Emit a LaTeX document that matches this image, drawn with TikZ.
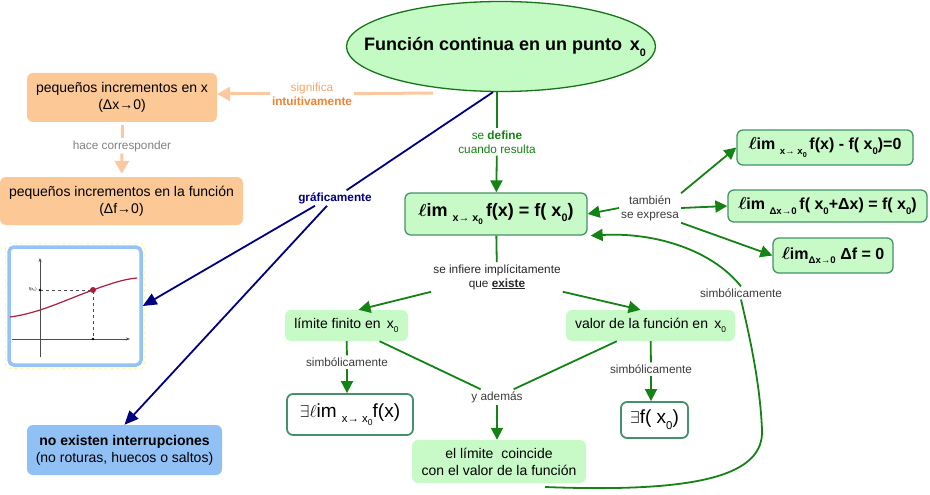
\documentclass[tikz,border=0pt]{standalone}
\usepackage{fontspec}
\setmainfont{Liberation Sans}
\usetikzlibrary{arrows.meta,shapes.geometric,calc}
\definecolor{lgreen}{RGB}{200,250,200}
\definecolor{egreen}{RGB}{196,250,196}
\definecolor{dgreen}{RGB}{25,115,25}
\definecolor{agreen}{RGB}{20,130,20}
\definecolor{bgreen}{RGB}{70,145,105}
\definecolor{ofill}{RGB}{251,200,150}
\definecolor{oline}{RGB}{251,200,160}
\definecolor{otext}{RGB}{240,130,50}
\definecolor{otext2}{RGB}{245,165,105}
\definecolor{navyc}{RGB}{0,0,128}
\definecolor{bfill}{RGB}{145,192,245}
\definecolor{pborder}{RGB}{150,195,245}
\definecolor{gtxt}{RGB}{60,60,60}
\definecolor{curvered}{RGB}{170,30,60}
\newcommand{\mysb}[1]{\raisebox{-0.3em}{\scalebox{0.6}{#1}}}
\newcommand{\mysbb}[1]{\raisebox{-0.25em}{\scalebox{0.75}{#1}}}
\tikzset{
  box/.style={rounded corners=6pt, inner sep=0pt, align=center},
  ob/.style={box, fill=ofill, font=\fontsize{14}{17}\selectfont},
  gb/.style={box, fill=lgreen, font=\fontsize{14}{17}\selectfont},
  fb/.style={box, fill=lgreen, draw=bgreen, line width=1.3pt, font=\bfseries\fontsize{16}{18}\selectfont},
  wb/.style={box, fill=white, draw=bgreen, line width=1.8pt, font=\fontsize{19}{21}\selectfont},
  lbl/.style={font=\fontsize{11.8}{14}\selectfont, text=gtxt, align=center, inner sep=2pt},
  ga/.style={draw=agreen, line width=1.8pt, -{Triangle[length=12pt,width=12pt]}},
  gl/.style={draw=agreen, line width=1.8pt},
  oa/.style={draw=oline, line width=3pt, -{Triangle[length=13pt,width=14pt]}},
  ol/.style={draw=oline, line width=3pt},
  na/.style={draw=navyc, line width=1.8pt, -{Triangle[length=14pt,width=12pt]}},
  nl/.style={draw=navyc, line width=1.8pt}
}
\begin{document}
\begin{tikzpicture}[x=1pt,y=-1pt]
\useasboundingbox (0,0) rectangle (930,495);
% main ellipse
\node[ellipse, draw=dgreen, line width=1.3pt, fill=egreen, minimum width=309pt, minimum height=90pt, inner sep=0pt] (E) at (501,46.5) {};
\node[font=\bfseries\fontsize{18}{20}\selectfont, inner sep=0pt] (Et) at (505,47) {Función continua en un punto \,x\mysb{0}};
% orange part
\node[ob, minimum width=190pt, minimum height=49pt] (O1) at (122,97.5) {pequeños incrementos en x\\(Δx→0)};
\node[ob, minimum width=243pt, minimum height=48pt] (O2) at (121.5,201) {pequeños incrementos en la función\\(Δf→0)};
\node[lbl, text=otext2] (S) at (312,94) {significa\\\textcolor{otext}{\bfseries intuitivamente}};
\coordinate (eo) at (433,93);
\draw[ol] (eo) -- (S);
\draw[oa] (S.west) -- (S.west -| O1.east);
\node[lbl, text=gray] (H) at (122,146) {hace corresponder};
\draw[ol, shorten <=3pt] (O1) -- (H);
\draw[oa, shorten >=3pt] (H) -- (O2);
% definition
\node[lbl, text=agreen] (D) at (497,142) {se \textbf{define}\\cuando resulta};
\node[fb, font=\bfseries\fontsize{18}{20}\selectfont, minimum width=182pt, minimum height=42pt] (L) at (496,214) {{\boldmath$\ell$}im \mysb{x→ x\mysbb{0}}\,f(x) = f( x\mysb{0})};
\draw[gl] (E.south -| D) -- (D);
\draw[ga] (D) -- (L);
% also expressed
\node[lbl] (T) at (650,208) {también\\se expresa};
\node[fb, minimum width=176pt, minimum height=35pt] (A) at (825,147.5) {{\boldmath$\ell$}im \mysb{x→ x\mysbb{0}}\,f(x) - f( x\mysb{0})=0};
\node[fb, minimum width=199pt, minimum height=32pt] (B) at (827.5,206) {{\boldmath$\ell$}im \mysb{Δx→0}\,f( x\mysb{0}+Δx) = f( x\mysb{0})};
\node[fb, minimum width=120pt, minimum height=35pt] (C) at (833,255.5) {{\boldmath$\ell$}im\mysb{Δx→0} Δf = 0};
\draw[ga] (T.west) -- (L.east);
\draw[ga] (T.north east) -- (A.west);
\draw[ga] (T.east) -- (B.west);
\draw[ga] (T.south east) -- (C.west);
% inferred
\node[lbl, text=black!85] (I) at (497,277) {se infiere implícitamente\\que \underline{\textbf{existe}}};
\draw[gl] (L) -- (I);
\node[gb, minimum width=123pt, minimum height=31pt] (F) at (346.5,325.5) {límite finito en \,x\mysb{0}};
\node[gb, minimum width=169pt, minimum height=31pt] (V) at (650.5,325.5) {valor de la función en \,x\mysb{0}};
\draw[ga] (I.south west) -- ([xshift=12pt]F.north);
\draw[ga] (I.south east) -- ([xshift=-10pt]V.north);
\node[lbl] (S1) at (347,362) {simbólicamente};
\node[wb, minimum width=126pt, minimum height=41pt] (E1) at (350,414.5) {$\exists\ell$im \mysb{x→ x\mysbb{0}}f(x)};
\draw[gl] (F) -- (S1);
\draw[ga] (S1) -- (S1 |- E1.north);
\node[lbl] (S2) at (651,369) {simbólicamente};
\node[wb, minimum width=67pt, minimum height=36pt] (E2) at (654.5,420) {$\exists$f( x\mysb{0})};
\draw[gl] (V) -- (S2);
\draw[ga] (S2) -- (S2 |- E2.north);
\node[lbl] (Y2) at (497,397) {y además};
\node[gb, minimum width=174pt, minimum height=43pt] (K) at (499,461.5) {el límite \ coincide\\con el valor de la función};
\draw[gl] (F) -- (Y2);
\draw[gl] (V) -- (Y2);
\draw[ga] (Y2) -- (Y2 |- K.north);
% symbolic loop
\node[lbl] (Y) at (741,293) {simbólicamente};
\coordinate (k1) at (545,487);
\draw[gl] (k1) .. controls (700,493) and (764,475) .. (762,430) .. controls (760,380) and (748,330) .. (Y.south);
\draw[ga] (Y.north) .. controls (712,250) and (655,232) .. ([xshift=3pt]L.south east);
% graphically
\node[font=\bfseries\fontsize{11.8}{14}\selectfont, text=navyc, inner sep=2pt] (G) at (335,198) {gráficamente};
\node[box, fill=bfill, minimum width=195pt, minimum height=50pt, font=\fontsize{14}{17}\selectfont] (N) at (124.5,450) {\textbf{no existen interrupciones}\\(no roturas, huecos o saltos)};
\node[draw=pborder, line width=3.5pt, fill=white, rounded corners=5pt, minimum width=132pt, minimum height=118pt, inner sep=0pt] (P) at (75,306) {};
\draw[yellow!55, dashed, line width=0.6pt, rounded corners=6pt] ($(P.north west)+(-2,-2)$) rectangle ($(P.south east)+(2,2)$);
\draw[-{Stealth[length=4pt]}, line width=0.6pt, black!70] (40,357) -- (40,258);
\draw[-{Stealth[length=4pt]}, line width=0.6pt, black!70] (12,339) -- (130,339);
\draw[dashed, black!70, line width=0.5pt] (40,290) -- (93,290) -- (93,339);
\draw[curvered, line width=1.2pt] (10,317) .. controls (40,313) and (65,300) .. (93,290) .. controls (112,283) and (125,279) .. (137,278);
\fill[black] (40,290) circle (1.3);
\fill[black] (93,339) circle (1.3);
\fill[curvered] (93,290) circle (3);
\node[font=\fontsize{4}{4}\selectfont, anchor=east, inner sep=1pt] (fx) at (38,290) {f(x\textsubscript{0})};
\draw[nl] ([xshift=-8pt]E.south) -- (G);
\draw[na] ([xshift=-20pt]G.south) -- (P.east);
\draw[na] ([xshift=-8pt]G.south) -- (N.north);
\end{tikzpicture}
\end{document}
